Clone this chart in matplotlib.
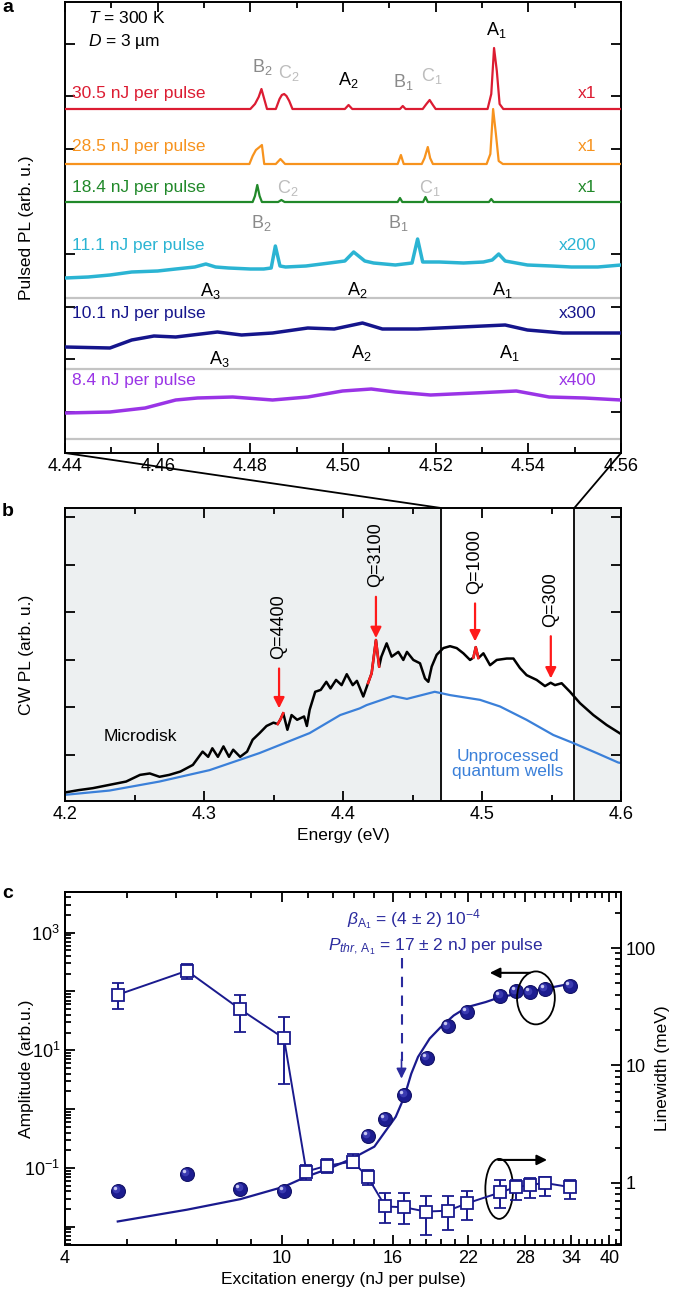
#!/usr/bin/env python3
import numpy as np
import matplotlib
matplotlib.use('Agg')
import matplotlib.pyplot as plt
from matplotlib.ticker import MultipleLocator, FixedLocator, NullFormatter
from matplotlib.patches import ConnectionPatch, Ellipse
from matplotlib.transforms import offset_copy

plt.rcParams['font.family'] = ['Liberation Sans', 'DejaVu Sans']
plt.rcParams['mathtext.fontset'] = 'custom'
plt.rcParams['mathtext.rm'] = 'Liberation Sans'
plt.rcParams['mathtext.it'] = 'Liberation Sans:italic'
plt.rcParams['mathtext.bf'] = 'Liberation Sans:bold'
plt.rcParams['axes.linewidth'] = 1.4

#### data: panel a (pulsed PL, intensity above each trace's zero line)
red_e = [4.440, 4.4800, 4.4810, 4.4818, 4.4824, 4.4830, 4.4836, 4.4855, 4.4863, 4.4868, 4.4873,
         4.4878, 4.4884, 4.4891, 4.5004, 4.5012, 4.5020, 4.5123, 4.5129, 4.5135, 4.5172, 4.5180,
         4.5187, 4.5194, 4.5200, 4.5312, 4.5320, 4.5326, 4.5332, 4.5338, 4.5346, 4.560]
red_i = [0, 0, 5, 12, 20, 10, 0, 0, 10, 14, 15, 13, 8, 0, 0, 4, 0, 0, 3, 0, 0, 5,
         9, 4, 0, 0, 15, 61, 38, 5, 0, 0]
orange_e = [4.440, 4.4798, 4.4805, 4.4812, 4.4820, 4.4825, 4.4830, 4.4855, 4.4865, 4.4875, 4.5118,
            4.5125, 4.5131, 4.5170, 4.5176, 4.5183, 4.5188, 4.5194, 4.5310, 4.5318, 4.5324, 4.5330,
            4.5336, 4.5345, 4.560]
orange_i = [0, 0, 8, 14, 17, 19, 0, 0, 5, 0, 0, 9, 0, 0, 6, 17, 6, 0, 0, 10, 55, 30, 3, 0, 0]
green_e = [4.440, 4.4805, 4.4810, 4.4815, 4.4820, 4.4825, 4.4860, 4.4867, 4.4874, 4.5118, 4.5123,
           4.5128, 4.5173, 4.5178, 4.5183, 4.5315, 4.5320, 4.5325, 4.560]
green_i = [0, 0, 6, 17, 6, 0, 0, 2, 0, 0, 4, 0, 0, 5, 0, 0, 3, 0, 0]
cyan_e = [4.440, 4.4450, 4.4497, 4.4544, 4.4600, 4.4639, 4.4680, 4.4704, 4.4725, 4.4753, 4.4800,
          4.4829, 4.4845, 4.4854, 4.4864, 4.4876, 4.4920, 4.4971, 4.5004, 4.5023, 4.5047, 4.5066,
          4.5113, 4.5149, 4.5161, 4.5172, 4.5208, 4.5260, 4.5303, 4.5322, 4.5336, 4.5350, 4.5398,
          4.5450, 4.5493, 4.5550, 4.560]
cyan_i = [20, 21, 23, 26, 27, 29, 31, 34, 31, 30, 29, 29, 30, 52, 32, 31, 32, 35, 37, 46, 37, 35,
          33, 35, 59, 36, 36, 35, 36, 38, 44, 37, 33, 32, 31, 31, 33]
navy_e = [4.440, 4.4497, 4.4544, 4.4592, 4.4639, 4.4729, 4.4781, 4.4848, 4.4924, 4.4981, 4.5042,
          4.5085, 4.5161, 4.5256, 4.5350, 4.5398, 4.5474, 4.560]
navy_i = [22, 21, 29, 33, 32, 37, 34, 36, 41, 40, 46, 40, 40, 42, 44, 39, 36, 36]
purple_e = [4.440, 4.4497, 4.4573, 4.4639, 4.4686, 4.4762, 4.4848, 4.4924, 4.4999, 4.5061, 4.5113,
            4.5189, 4.5284, 4.5374, 4.5445, 4.5521, 4.560]
purple_i = [26, 27, 31, 39, 41, 42, 39, 42, 48, 50, 47, 44, 46, 48, 42, 41, 39]

pulse_labels = ['30.5 nJ per pulse', '28.5 nJ per pulse', '18.4 nJ per pulse',
                '11.1 nJ per pulse', '10.1 nJ per pulse', '8.4 nJ per pulse']
gain_labels = ['x1', 'x1', 'x1', 'x200', 'x300', 'x400']

#### data: panel b (CW PL)
md_e = [4.200, 4.210, 4.220, 4.232, 4.244, 4.254, 4.261, 4.268, 4.275, 4.283, 4.292, 4.299, 4.303,
        4.306, 4.310, 4.314, 4.318, 4.321, 4.326, 4.331, 4.335, 4.340, 4.345, 4.350, 4.353, 4.355,
        4.357, 4.360, 4.363, 4.367, 4.372, 4.374, 4.376, 4.380, 4.384, 4.388, 4.391, 4.395, 4.399,
        4.4027, 4.407, 4.410, 4.4146, 4.418, 4.4206, 4.4237, 4.426, 4.4276, 4.4314, 4.435, 4.4398,
        4.4434, 4.446, 4.4506, 4.4554, 4.459, 4.4614, 4.4638, 4.4674, 4.4722, 4.477, 4.4818, 4.4866,
        4.4914, 4.4938, 4.4955, 4.4974, 4.501, 4.5058, 4.5106, 4.5178, 4.5226, 4.5273, 4.5321,
        4.5393, 4.5453, 4.5494, 4.5525, 4.5573, 4.5633, 4.5705, 4.5801, 4.5897, 4.600]
md_pl = [0.21, 0.26, 0.30, 0.37, 0.44, 0.58, 0.61, 0.54, 0.58, 0.65, 0.79, 1.07, 0.96,
         1.14, 0.96, 1.18, 0.96, 1.11, 0.96, 1.07, 1.32, 1.46, 1.61, 1.68, 1.65, 1.75,
         1.88, 1.53, 1.84, 1.74, 1.81, 1.61, 1.95, 2.33, 2.37, 2.54, 2.40, 2.58, 2.47,
         2.70, 2.47, 2.56, 2.23, 2.51, 2.72, 3.42, 2.86, 3.07, 3.35, 3.07, 3.17,
         3.00, 3.17, 3.00, 2.93, 2.61, 2.54, 2.86, 3.11, 3.25, 3.29, 3.25, 3.14,
         3.00, 3.05, 3.27, 3.04, 3.14, 2.89, 3.00, 3.03, 3.03, 2.83, 2.68,
         2.58, 2.45, 2.52, 2.47, 2.51, 2.33, 2.09, 1.84, 1.63, 1.44]
qw_e = [4.200, 4.232, 4.268, 4.304, 4.340, 4.376, 4.398, 4.412, 4.417, 4.436, 4.446, 4.466, 4.477,
        4.4986, 4.513, 4.532, 4.5513, 4.5657, 4.5825, 4.598, 4.600]
qw_pl = [0.16, 0.25, 0.44, 0.68, 1.04, 1.46, 1.84, 1.98, 2.05, 2.24, 2.18, 2.33, 2.26,
         2.16, 2.02, 1.74, 1.42, 1.25, 1.04, 0.84, 0.83]
mode_lo = [4.352, 4.418, 4.4935, 4.547]
mode_hi = [4.358, 4.427, 4.4975, 4.552]
q_e = [4.354, 4.4237, 4.4950, 4.5495]
q_top = [2.82, 4.33, 4.19, 3.50]
q_tip = [1.98, 3.46, 3.39, 2.61]
q_labels = ['Q=4400', 'Q=3100', 'Q=1000', 'Q=300']
zoom_lo, zoom_hi = 4.4705, 4.5664

#### data: panel c
amp_x = [5.0, 6.7, 8.4, 10.1, 14.4, 15.5, 16.8, 18.5, 20.2, 21.9, 25.2, 26.9, 28.6, 30.4, 33.9]
amp_y = [0.041, 0.079, 0.044, 0.041, 0.35, 0.69, 1.73, 7.5, 25.6, 45, 85, 100, 96, 110, 125]
fit_x = [5.0, 6.7, 8.4, 10.1, 11.1, 12.3, 13.5, 14.8, 16.2, 16.8, 17.3, 17.8, 18.7, 19.6, 20.7,
         21.9, 23.7, 25.2, 28.6, 31.0, 33.9]
fit_y = [0.0123, 0.0195, 0.0295, 0.048, 0.071, 0.10, 0.146, 0.23, 0.74, 1.62, 4.0, 7.7, 15.8,
         24.8, 39, 54, 66, 80, 100, 115, 135]
lw_x = [5.0, 6.7, 8.4, 10.1, 11.1, 12.1, 13.5, 14.4, 15.5, 16.8, 18.4, 20.2, 21.9, 25.2, 26.9,
        28.6, 30.4, 33.9]
lw_y = [40, 64, 30, 17, 1.25, 1.40, 1.52, 1.12, 0.63, 0.62, 0.57, 0.58, 0.67, 0.83, 0.92, 0.96,
        1.0, 0.92]
lw_lo = [30, 54, 19.4, 7, 1.06, 1.21, 1.33, 0.96, 0.46, 0.45, 0.36, 0.40, 0.48, 0.61, 0.71, 0.75,
         0.77, 0.73]
lw_hi = [50, 73, 40, 26, 1.42, 1.59, 1.77, 1.29, 0.82, 0.82, 0.77, 0.78, 0.86, 1.06, 1.06, 1.10,
         1.13, 1.06]
p_thr = 16.6
x_major = [4, 10, 16, 22, 28, 34, 40]

#### plot
navy = '#1a1a8e'
tnavy = '#2b2b9e'
fs = 12.5

fig = plt.figure(figsize=(6.85, 12.96), dpi=100)
ax_a = fig.add_axes([65/685, 1-453/1296, 556/685, 451/1296])
ax_b = fig.add_axes([65/685, 1-801/1296, 556/685, 293/1296])
ax_c = fig.add_axes([65/685, 1-1245/1296, 556/685, 353/1296])

# ---- panel a
traces = [(red_e, red_i, '#dc1c32'), (orange_e, orange_i, '#f7931e'), (green_e, green_i, '#21892a'),
          (cyan_e, cyan_i, '#2bb4d3'), (navy_e, navy_i, '#15158c'), (purple_e, purple_i, '#9a34e6')]
offsets = [344, 289, 251, 155, 84, 14]
label_y = [359, 306, 265, 207, 139, 72]
widths = [1.6, 1.6, 1.6, 2.5, 2.5, 2.5]
for k, (e, i, c) in enumerate(traces):
    if k >= 3:
        ax_a.axhline(offsets[k], color='#c4c4c4', lw=1.6, zorder=1)
    ax_a.plot(e, np.array(i) + offsets[k], color=c, lw=widths[k], zorder=3)
    ax_a.text(4.4415, label_y[k], pulse_labels[k], color=c, fontsize=fs, va='center', ha='left')
    ax_a.text(4.5547, label_y[k], gain_labels[k], color=c, fontsize=fs, va='center', ha='right')

g1, g2 = '#8a8a8a', '#bdbdbd'
peak_txt = [(4.533, 423, 'A$_1$', 'k'), (4.4825, 386, 'B$_2$', g1), (4.4884, 380, 'C$_2$', g2),
            (4.5012, 373, 'A$_2$', 'k'), (4.513, 371, 'B$_1$', g1), (4.5192, 377, 'C$_1$', g2),
            (4.488, 265, 'C$_2$', g2), (4.5188, 265, 'C$_1$', g2),
            (4.4823, 230, 'B$_2$', g1), (4.512, 230, 'B$_1$', g1),
            (4.4714, 162, 'A$_3$', 'k'), (4.503, 163, 'A$_2$', 'k'), (4.5343, 163, 'A$_1$', 'k'),
            (4.4733, 94, 'A$_3$', 'k'), (4.504, 100, 'A$_2$', 'k'), (4.5358, 100, 'A$_1$', 'k')]
for x, y, s, c in peak_txt:
    ax_a.text(x, y, s, color=c, fontsize=13, ha='center', va='center')
ax_a.text(4.445, 435, '$T$ = 300 K', fontsize=fs, va='center')
ax_a.text(4.445, 411, '$D$ = 3 µm', fontsize=fs, va='center')

ax_a.set_xlim(4.44, 4.56)
ax_a.set_ylim(0, 451)
ax_a.xaxis.set_major_locator(MultipleLocator(0.02))
ax_a.xaxis.set_minor_locator(MultipleLocator(0.01))
ax_a.xaxis.set_major_formatter(matplotlib.ticker.FormatStrFormatter('%.2f'))
ax_a.set_yticks(np.arange(41, 451, 52.6))
ax_a.set_yticklabels([])
ax_a.set_ylabel('Pulsed PL (arb. u.)', fontsize=fs)
ax_a.yaxis.set_label_coords(-0.056, 0.5)

# ---- panel b
ax_b.axvspan(4.2, zoom_lo, color='#edf0f1', zorder=0)
ax_b.axvspan(zoom_hi, 4.6, color='#edf0f1', zorder=0)
ax_b.axvline(zoom_lo, color='k', lw=1.3)
ax_b.axvline(zoom_hi, color='k', lw=1.3)
ax_b.plot(qw_e, qw_pl, color='#3b80d9', lw=1.6)
ax_b.plot(md_e, md_pl, color='k', lw=1.8)
md_e_arr = np.array(md_e)
md_pl_arr = np.array(md_pl)
for lo, hi in zip(mode_lo, mode_hi):
    m = (md_e_arr >= lo) & (md_e_arr <= hi)
    ax_b.plot(md_e_arr[m], md_pl_arr[m], color='#ff2020', lw=1.8)
for e, top, tip, s in zip(q_e, q_top, q_tip, q_labels):
    ax_b.annotate('', xy=(e, tip), xytext=(e, top),
                  arrowprops=dict(arrowstyle='-|>', color='#ff1a1a', lw=1.6, mutation_scale=16,
                                  shrinkA=0, shrinkB=0))
    ax_b.text(e, top + 0.2, s, rotation=90, fontsize=13, ha='center', va='bottom')
ax_b.text(4.254, 1.38, 'Microdisk', fontsize=fs, ha='center', va='center')
ax_b.text(4.5187, 0.81, 'Unprocessed\nquantum wells', fontsize=fs, ha='center', va='center',
          color='#3b80d9', linespacing=1.0)
ax_b.set_xlim(4.2, 4.6)
ax_b.set_ylim(0.03, 6.2)
ax_b.xaxis.set_major_locator(MultipleLocator(0.1))
ax_b.xaxis.set_minor_locator(MultipleLocator(0.05))
ax_b.xaxis.set_major_formatter(matplotlib.ticker.FormatStrFormatter('%.1f'))
ax_b.set_yticks([1, 2, 3, 4, 5, 6])
ax_b.set_yticklabels([])
ax_b.set_xlabel('Energy (eV)', fontsize=fs, labelpad=4)
ax_b.set_ylabel('CW PL (arb. u.)', fontsize=fs)
ax_b.yaxis.set_label_coords(-0.056, 0.5)

# zoom connectors
for xa, xb in [(4.44, zoom_lo), (4.56, zoom_hi)]:
    con = ConnectionPatch(xyA=(xa, 0), coordsA=ax_a.transData, xyB=(xb, 6.2), coordsB=ax_b.transData,
                          color='k', lw=1.3)
    fig.add_artist(con)

# ---- panel c
ax_c.set_xscale('log')
ax_c.set_yscale('log')
ax_c.set_xlim(4, 42)
ax_c.set_ylim(10**-2.31, 10**3.69)
ax_c.plot(fit_x, fit_y, color=navy, lw=1.6, zorder=2)
ax_c.plot(amp_x, amp_y, 'o', ms=10, color='#1c1c90', mec='#121266', mew=0.8, zorder=3)
hl1 = offset_copy(ax_c.transData, fig=fig, x=-1.2, y=1.2, units='points')
hl2 = offset_copy(ax_c.transData, fig=fig, x=-2.2, y=2.2, units='points')
ax_c.plot(amp_x, amp_y, 'o', ms=5.5, color='#3a3ab0', mew=0, transform=hl1, zorder=4)
ax_c.plot(amp_x, amp_y, 'o', ms=2.5, color='#c8c8f2', mew=0, transform=hl2, zorder=5)

ax_c.plot([p_thr, p_thr], [377, 6.5], color=tnavy, lw=1.5, ls=(0, (5, 4)), zorder=2)
ax_c.annotate('', xy=(p_thr, 3.3), xytext=(p_thr, 7.0),
              arrowprops=dict(arrowstyle='-|>', color=tnavy, lw=1.2, mutation_scale=15,
                              shrinkA=0, shrinkB=0))

ax2 = ax_c.twinx()
ax2.set_yscale('log')
ax2.set_ylim(0.296, 300)
lw_y_arr = np.array(lw_y)
ax2.errorbar(lw_x, lw_y, yerr=[lw_y_arr - np.array(lw_lo), np.array(lw_hi) - lw_y_arr],
             fmt='s-', color=navy, mfc='white', mec=navy, ms=9, mew=1.3, lw=1.4,
             capsize=4.5, elinewidth=1.4, capthick=1.4, zorder=3)

ax2.text(0.507, 0.921, r'$\beta_{\mathrm{A}_1}$ = (4 ± 2) 10$^{-4}$', transform=ax2.transAxes,
         fontsize=fs, color=tnavy, ha='left', va='center')
ax2.text(0.473, 0.844, r'$P_{thr,\,\mathrm{A}_1}$ = 17 ± 2 nJ per pulse', transform=ax2.transAxes,
         fontsize=fs, color=tnavy, ha='left', va='center')
ax2.add_patch(Ellipse((0.847, 0.700), 0.068, 0.150, transform=ax2.transAxes, fill=False,
                      ec='k', lw=1.3))
ax2.add_patch(Ellipse((0.781, 0.159), 0.050, 0.170, transform=ax2.transAxes, fill=False,
                      ec='k', lw=1.3))
ax2.annotate('', xy=(0.764, 0.771), xytext=(0.836, 0.771), xycoords='axes fraction',
             arrowprops=dict(arrowstyle='-|>', color='k', lw=1.5, mutation_scale=15, shrinkA=0, shrinkB=0))
ax2.annotate('', xy=(0.867, 0.241), xytext=(0.779, 0.241), xycoords='axes fraction',
             arrowprops=dict(arrowstyle='-|>', color='k', lw=1.5, mutation_scale=15, shrinkA=0, shrinkB=0))

ax_c.xaxis.set_major_locator(FixedLocator(x_major))
ax_c.xaxis.set_minor_locator(FixedLocator(np.arange(4, 42, 1.2)))
ax_c.xaxis.set_minor_formatter(NullFormatter())
ax_c.set_xticklabels([str(v) for v in x_major])
ax_c.set_yticks([1e-2, 1e-1, 1, 1e1, 1e2, 1e3])
ax_c.set_yticklabels(['', '10$^{-1}$', '', '10$^{1}$', '', '10$^{3}$'])
ax_c.yaxis.set_minor_locator(matplotlib.ticker.LogLocator(base=10, subs=np.arange(2, 10)))
ax_c.yaxis.set_minor_formatter(NullFormatter())
ax2.set_yticks([1, 10, 100])
ax2.set_yticklabels(['1', '10', '100'])
ax2.yaxis.set_minor_locator(matplotlib.ticker.LogLocator(base=10, subs=np.arange(2, 10)))
ax2.yaxis.set_minor_formatter(NullFormatter())
ax_c.set_xlabel('Excitation energy (nJ per pulse)', fontsize=fs, labelpad=4)
ax_c.set_ylabel('Amplitude (arb.u.)', fontsize=fs)
ax_c.yaxis.set_label_coords(-0.056, 0.5)
ax2.set_ylabel('Linewidth (meV)', fontsize=fs)
ax2.yaxis.set_label_coords(1.062, 0.5)

for ax in [ax_a, ax_b, ax_c]:
    ax.tick_params(which='both', direction='in', top=True, right=True, labelsize=13, width=1.3)
    ax.tick_params(which='major', length=7)
    ax.tick_params(which='minor', length=4)
ax_c.tick_params(axis='y', which='both', right=False)
ax2.tick_params(which='both', direction='in', labelsize=13, width=1.3)
ax2.tick_params(which='major', length=7)
ax2.tick_params(which='minor', length=4)

fig.text(2/685, 1-8/1296, 'a', fontsize=14, fontweight='bold', va='center')
fig.text(2/685, 1-512/1296, 'b', fontsize=14, fontweight='bold', va='center')
fig.text(2/685, 1-894/1296, 'c', fontsize=14, fontweight='bold', va='center')

fig.savefig('out.png', dpi=100)
